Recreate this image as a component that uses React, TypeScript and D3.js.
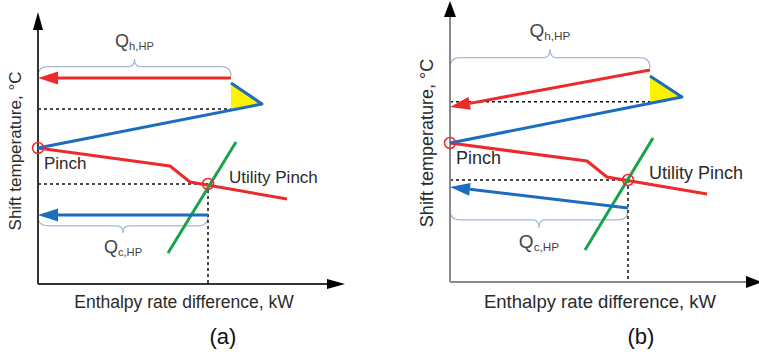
import React from "react";
import * as d3 from "d3";

// values are in arbitrary diagram units (enthalpy 0..100, temperature 0..100)
const hotCurveA = [[0, 54.4], [52.8, 47.2], [60.8, 40.8], [99.6, 34]];
const coldCurveA = [[0, 54.4], [89.6, 72], [77.2, 80.4]];
const yellowA = [[77.2, 80.4], [77.2, 70], [89.6, 72]];
const utilityA = [[52, 12.4], [79.2, 56.8]];
const hotArrowA = [[77.2, 82.4], [0, 82.4]];
const coldArrowA = [[68, 27.6], [0, 27.6]];
const pinchA = [0, 54.4];
const utilPinchA = [68, 40];
const hpLevelA = 70;

const hotCurveB = [[0, 55.6], [54.8, 48.4], [62.8, 42], [102.8, 35.2]];
const coldCurveB = [[0, 55.6], [92.8, 74], [80, 82.4]];
const yellowB = [[80, 82.4], [80, 72], [92.8, 74]];
const utilityB = [[54, 12.8], [81.2, 57.6]];
const hotArrowB = [[80, 84.8], [0, 70]];
const coldArrowB = [[71.2, 29.6], [0, 38]];
const pinchB = [0, 55.6];
const utilPinchB = [71.2, 40.8];
const hpLevelB = 72.1;

const RED = "#ec2a2c";
const BLUE = "#1c6cbf";
const GREEN = "#16a34a";
const YELLOW = "#fff200";
const BRACE = "#a3b8d8";
const TXT = "#2a2a2a";
const FONT = "'Liberation Sans', Arial, sans-serif";

type Pt = number[];

function arrowHead(tip: Pt, from: Pt, len: number, hw: number) {
  const dx = tip[0] - from[0];
  const dy = tip[1] - from[1];
  const d = Math.hypot(dx, dy);
  const ux = dx / d, uy = dy / d;
  const bx = tip[0] - ux * len, by = tip[1] - uy * len;
  return {
    base: [bx, by],
    pts: `${tip[0]},${tip[1]} ${bx - uy * hw},${by + ux * hw} ${bx + uy * hw},${by - ux * hw}`,
  };
}

function bracePath(x1: number, x2: number, yEnd: number, yTip: number) {
  const yBody = yEnd + (yTip - yEnd) * 0.55;
  const xm = (x1 + x2) / 2;
  const r = 10;
  return `M${x1},${yEnd} Q${x1},${yBody} ${x1 + r},${yBody} L${xm - 6},${yBody} Q${xm},${yBody} ${xm},${yTip} Q${xm},${yBody} ${xm + 6},${yBody} L${x2 - r},${yBody} Q${x2},${yBody} ${x2},${yEnd}`;
}

function Panel(props: any) {
  const p = props;
  const x = d3.scaleLinear().domain([0, 100]).range([p.ox, p.ox + 250]);
  const y = d3.scaleLinear().domain([0, 100]).range([p.oy, p.oy - 250]);
  const line = d3.line<number[]>().x((d) => x(d[0])).y((d) => y(d[1]));
  const px = (d: Pt) => [x(d[0]), y(d[1])];

  const yTop = px([0, p.yMax]);
  const xEnd = px([p.xMax, 0]);
  const yAx = arrowHead(yTop, px([0, 0]), p.axLen, p.axHw);
  const xAx = arrowHead(xEnd, px([0, 0]), p.axLen, p.axHw);

  const hA = arrowHead(px(p.hotArrow[1]), px(p.hotArrow[0]), 20, 6.5);
  const cA = arrowHead(px(p.coldArrow[1]), px(p.coldArrow[0]), 20, 6.5);

  const bTop = p.braceTop;
  const bBot = p.braceBot;
  const up = px(p.utilPinch);
  const pn = px(p.pinch);

  const qLabel = (cx: number, by: number, sub: string) => (
    <text x={cx} y={by} textAnchor="middle" fill="#444" fontFamily={FONT}>
      <tspan fontSize={p.qSize}>Q</tspan>
      <tspan fontSize={p.qSize * 0.62} dy={3}>{sub}</tspan>
    </text>
  );

  return (
    <g>
      {/* braces */}
      <path d={bracePath(x(bTop[0]), x(bTop[1]), y(bTop[2]), y(bTop[3]))} fill="none" stroke={BRACE} strokeWidth={1.2} />
      <path d={bracePath(x(bBot[0]), x(bBot[1]), y(bBot[2]), y(bBot[3]))} fill="none" stroke={BRACE} strokeWidth={1.2} />
      {qLabel(x((bTop[0] + bTop[1]) / 2), y(bTop[3]) - 12, "h,HP")}
      {qLabel(x((bBot[0] + bBot[1]) / 2), y(bBot[3]) + 20, "c,HP")}

      {/* dashed guides */}
      <line x1={x(0)} x2={x(p.yellow[1][0])} y1={y(p.hpLevel)} y2={y(p.hpLevel)} stroke="#111" strokeWidth={1.5} strokeDasharray="3,3" />
      <line x1={x(0)} x2={up[0]} y1={up[1]} y2={up[1]} stroke="#111" strokeWidth={1.5} strokeDasharray="3,3" />
      <line x1={up[0]} x2={up[0]} y1={up[1]} y2={y(0)} stroke="#111" strokeWidth={1.5} strokeDasharray="3,3" />

      {/* axes */}
      <line x1={x(0)} y1={y(0)} x2={yAx.base[0]} y2={yAx.base[1]} stroke={p.axColor} strokeWidth={2} />
      <line x1={x(0)} y1={y(0)} x2={xAx.base[0]} y2={xAx.base[1]} stroke={p.axColor} strokeWidth={2} />
      <polygon points={yAx.pts} fill="#000" />
      <polygon points={xAx.pts} fill="#000" />

      {/* heat pump triangle */}
      <polygon points={p.yellow.map((d: Pt) => px(d).join(",")).join(" ")} fill={YELLOW} />

      {/* composite curves */}
      <path d={line(p.hot) || ""} fill="none" stroke={RED} strokeWidth={3} strokeLinejoin="round" />
      <path d={line(p.cold) || ""} fill="none" stroke={BLUE} strokeWidth={3} strokeLinejoin="round" />
      <path d={line(p.utility) || ""} fill="none" stroke={GREEN} strokeWidth={3} />

      {/* heat pump arrows */}
      <line x1={x(p.hotArrow[0][0])} y1={y(p.hotArrow[0][1])} x2={hA.base[0]} y2={hA.base[1]} stroke={RED} strokeWidth={3} />
      <polygon points={hA.pts} fill={RED} />
      <line x1={x(p.coldArrow[0][0])} y1={y(p.coldArrow[0][1])} x2={cA.base[0]} y2={cA.base[1]} stroke={BLUE} strokeWidth={3} />
      <polygon points={cA.pts} fill={BLUE} />

      {/* pinch markers */}
      <circle cx={pn[0]} cy={pn[1]} r={5.5} fill="none" stroke={RED} strokeWidth={1.5} />
      <circle cx={up[0]} cy={up[1]} r={5.5} fill="none" stroke={RED} strokeWidth={1.5} />

      <g fontFamily={FONT} fill={TXT}>
        <text x={pn[0] + 6} y={pn[1] + 21} fontSize={p.fs}>Pinch</text>
        <text x={up[0] + 21} y={up[1] - 1} fontSize={p.fs}>Utility Pinch</text>
        <text x={p.xLabelX} y={308} fontSize={p.fs + 0.5} textAnchor="middle">Enthalpy rate difference, kW</text>
        <text transform={`translate(${p.yLabelX},${p.yLabelY}) rotate(-90)`} fontSize={p.fs} textAnchor="middle">Shift temperature, °C</text>
        <text x={p.tagX} y={344} fontSize={22} textAnchor="middle" fill="#111">{p.tag}</text>
      </g>
    </g>
  );
}

export default function App() {
  return (
    <svg width={759} height={356} style={{ position: "absolute", left: 0, top: 0, background: "#fff" }}>
      <Panel
        ox={38} oy={284} xMax={122.8} yMax={108.8} axLen={18} axHw={5} axColor="#333"
        hot={hotCurveA} cold={coldCurveA} yellow={yellowA} utility={utilityA}
        hotArrow={hotArrowA} coldArrow={coldArrowA} pinch={pinchA} utilPinch={utilPinchA} hpLevel={hpLevelA}
        braceTop={[0, 77.2, 83.2, 90]} braceBot={[0, 68, 26.8, 20.4]}
        fs={17} qSize={18} xLabelX={184} yLabelX={21} yLabelY={151} tagX={223} tag="(a)"
      />
      <Panel
        ox={450} oy={282} xMax={124.8} yMax={112.4} axLen={16} axHw={6} axColor="#888"
        hot={hotCurveB} cold={coldCurveB} yellow={yellowB} utility={utilityB}
        hotArrow={hotArrowB} coldArrow={coldArrowB} pinch={pinchB} utilPinch={utilPinchB} hpLevel={hpLevelB}
        braceTop={[0, 80, 85.6, 93.2]} braceBot={[0, 71.2, 28.8, 21.6]}
        fs={18} qSize={19} xLabelX={600} yLabelX={433} yLabelY={143} tagX={641} tag="(b)"
      />
    </svg>
  );
}
